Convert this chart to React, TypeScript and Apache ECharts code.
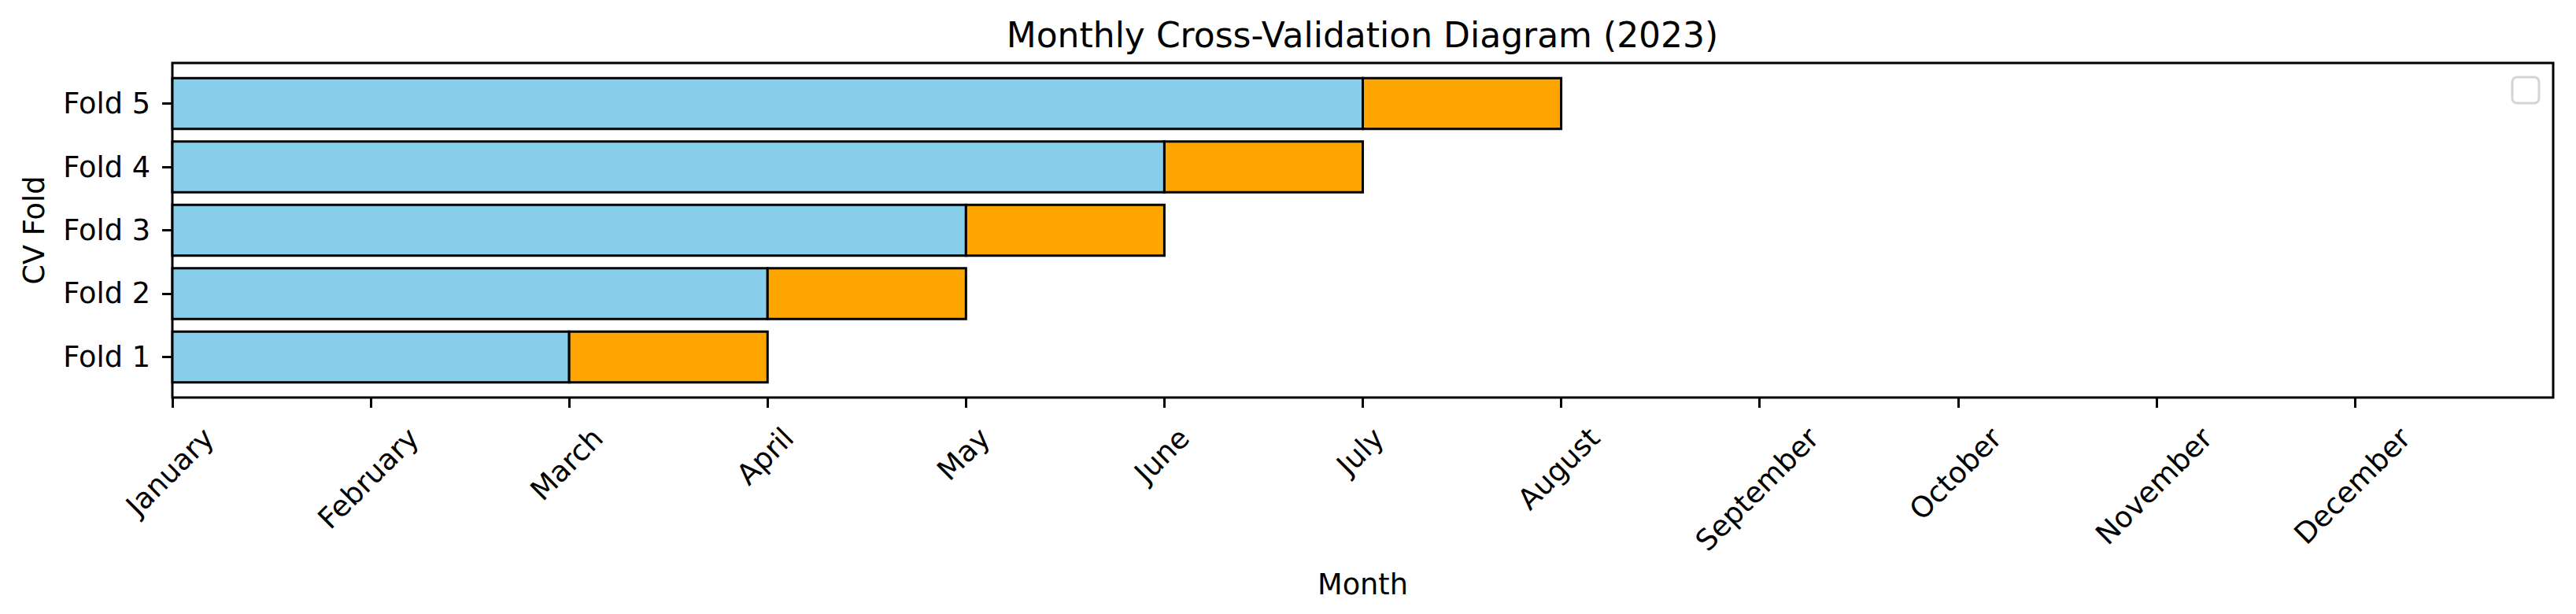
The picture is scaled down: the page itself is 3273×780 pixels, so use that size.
import React, { useEffect, useRef } from 'react'
import * as echarts from 'echarts'

// month index: 0 = January ... 11 = December
const MONTHS = ['January', 'February', 'March', 'April', 'May', 'June', 'July', 'August', 'September', 'October', 'November', 'December']
const FOLDS = ['Fold 1', 'Fold 2', 'Fold 3', 'Fold 4', 'Fold 5']
const TRAIN_START = [0, 0, 0, 0, 0]
const TRAIN_END = [2, 3, 4, 5, 6]
const TEST_START = [2, 3, 4, 5, 6]
const TEST_END = [3, 4, 5, 6, 7]

const X_MAX = 12
const Y_MIN = -0.64
const Y_MAX = 4.64
const BAR_HEIGHT = 0.8

const FONT = 'DejaVu Sans'
const TICK_FONT = 36.7
const TITLE_FONT = 44
const TRAIN_COLOR = '#87CEEB'
const TEST_COLOR = '#FFA500'

export default function App() {
  const chartRef = useRef<HTMLDivElement>(null)

  useEffect(() => {
    document.body.style.margin = '0'
    if (!chartRef.current) return
    const chart = echarts.init(chartRef.current, null, { renderer: 'svg' })

    const makeSeries = (name: string, color: string, starts: number[], ends: number[]) => ({
      type: 'custom',
      name,
      clip: false,
      encode: { x: [0, 1], y: 2 },
      data: FOLDS.map((_, i) => [starts[i], ends[i], i]),
      renderItem: (params: any, api: any) => {
        const y = api.value(2)
        const p0 = api.coord([api.value(0), y + BAR_HEIGHT / 2])
        const p1 = api.coord([api.value(1), y - BAR_HEIGHT / 2])
        return {
          type: 'rect',
          shape: { x: p0[0], y: p0[1], width: p1[0] - p0[0], height: p1[1] - p0[1] },
          style: { fill: color, stroke: '#000', lineWidth: 3 }
        }
      }
    })

    chart.setOption({
      animation: false,
      textStyle: { fontFamily: FONT, color: '#000' },
      title: {
        text: 'Monthly Cross-Validation Diagram (2023)',
        left: 1731,
        top: 22,
        padding: 0,
        textAlign: 'center',
        textStyle: { fontFamily: FONT, fontSize: TITLE_FONT, fontWeight: 'normal', color: '#000' }
      },
      grid: {
        left: 219, right: 29, top: 80, bottom: 275,
        containLabel: false,
        outerBoundsMode: 'none',
        show: true,
        borderColor: '#000',
        borderWidth: 3,
        backgroundColor: '#fff'
      },
      xAxis: {
        type: 'value',
        position: 'bottom',
        min: 0,
        max: X_MAX,
        interval: 1,
        name: 'Month',
        nameLocation: 'middle',
        nameGap: 219,
        nameTextStyle: { fontFamily: FONT, fontSize: TICK_FONT, color: '#000' },
        axisLine: { show: false, onZero: false },
        axisTick: { show: true, length: 13, lineStyle: { color: '#000', width: 3 }, customValues: MONTHS.map((_, i) => i) },
        axisLabel: { show: false },
        splitLine: { show: false }
      },
      yAxis: {
        type: 'value',
        position: 'left',
        min: Y_MIN,
        max: Y_MAX,
        name: 'CV Fold',
        nameLocation: 'middle',
        nameRotate: 90,
        nameGap: 157,
        nameTextStyle: { fontFamily: FONT, fontSize: TICK_FONT, color: '#000' },
        axisLine: { show: false, onZero: false },
        axisTick: { show: true, length: 13, lineStyle: { color: '#000', width: 3 }, customValues: FOLDS.map((_, i) => i) },
        axisLabel: {
          show: true,
          margin: 28,
          fontFamily: FONT,
          fontSize: TICK_FONT,
          color: '#000',
          customValues: FOLDS.map((_, i) => i),
          formatter: (v: number) => FOLDS[Math.round(v)] ?? ''
        },
        splitLine: { show: false }
      },
      series: [
        makeSeries('Train', TRAIN_COLOR, TRAIN_START, TRAIN_END),
        makeSeries('Test', TEST_COLOR, TEST_START, TEST_END)
      ]
    })

    // rotated month labels, centred under each tick like matplotlib's rotation=45
    const ctx = document.createElement('canvas').getContext('2d')!
    ctx.font = `${TICK_FONT}px "${FONT}"`
    const axisY = chart.convertToPixel({ gridIndex: 0 }, [0, Y_MIN])[1]
    const topRight = chart.convertToPixel({ gridIndex: 0 }, [X_MAX, Y_MAX])
    const lineH = TICK_FONT * 1.164
    const labels = MONTHS.map((m, i) => {
      const x = chart.convertToPixel({ xAxisIndex: 0 }, i)
      const w = ctx.measureText(m).width
      return {
        type: 'text',
        x: x - 3,
        y: axisY + 30 + Math.SQRT1_2 * (w + lineH) / 2,
        rotation: Math.PI / 4,
        style: { text: m, fontFamily: FONT, fontSize: TICK_FONT, fill: '#000', align: 'center', verticalAlign: 'middle' },
        z: 10
      }
    })

    chart.setOption({
      graphic: [
        ...labels,
        {
          type: 'rect',
          x: topRight[0] - 52,
          y: topRight[1] + 18,
          shape: { width: 34, height: 33, r: 6 },
          style: { fill: '#fff', stroke: '#d4d4d4', lineWidth: 3 },
          z: 10
        }
      ]
    })

    return () => chart.dispose()
  }, [])

  return <div ref={chartRef} style={{ width: 3273, height: 780 }} />
}
